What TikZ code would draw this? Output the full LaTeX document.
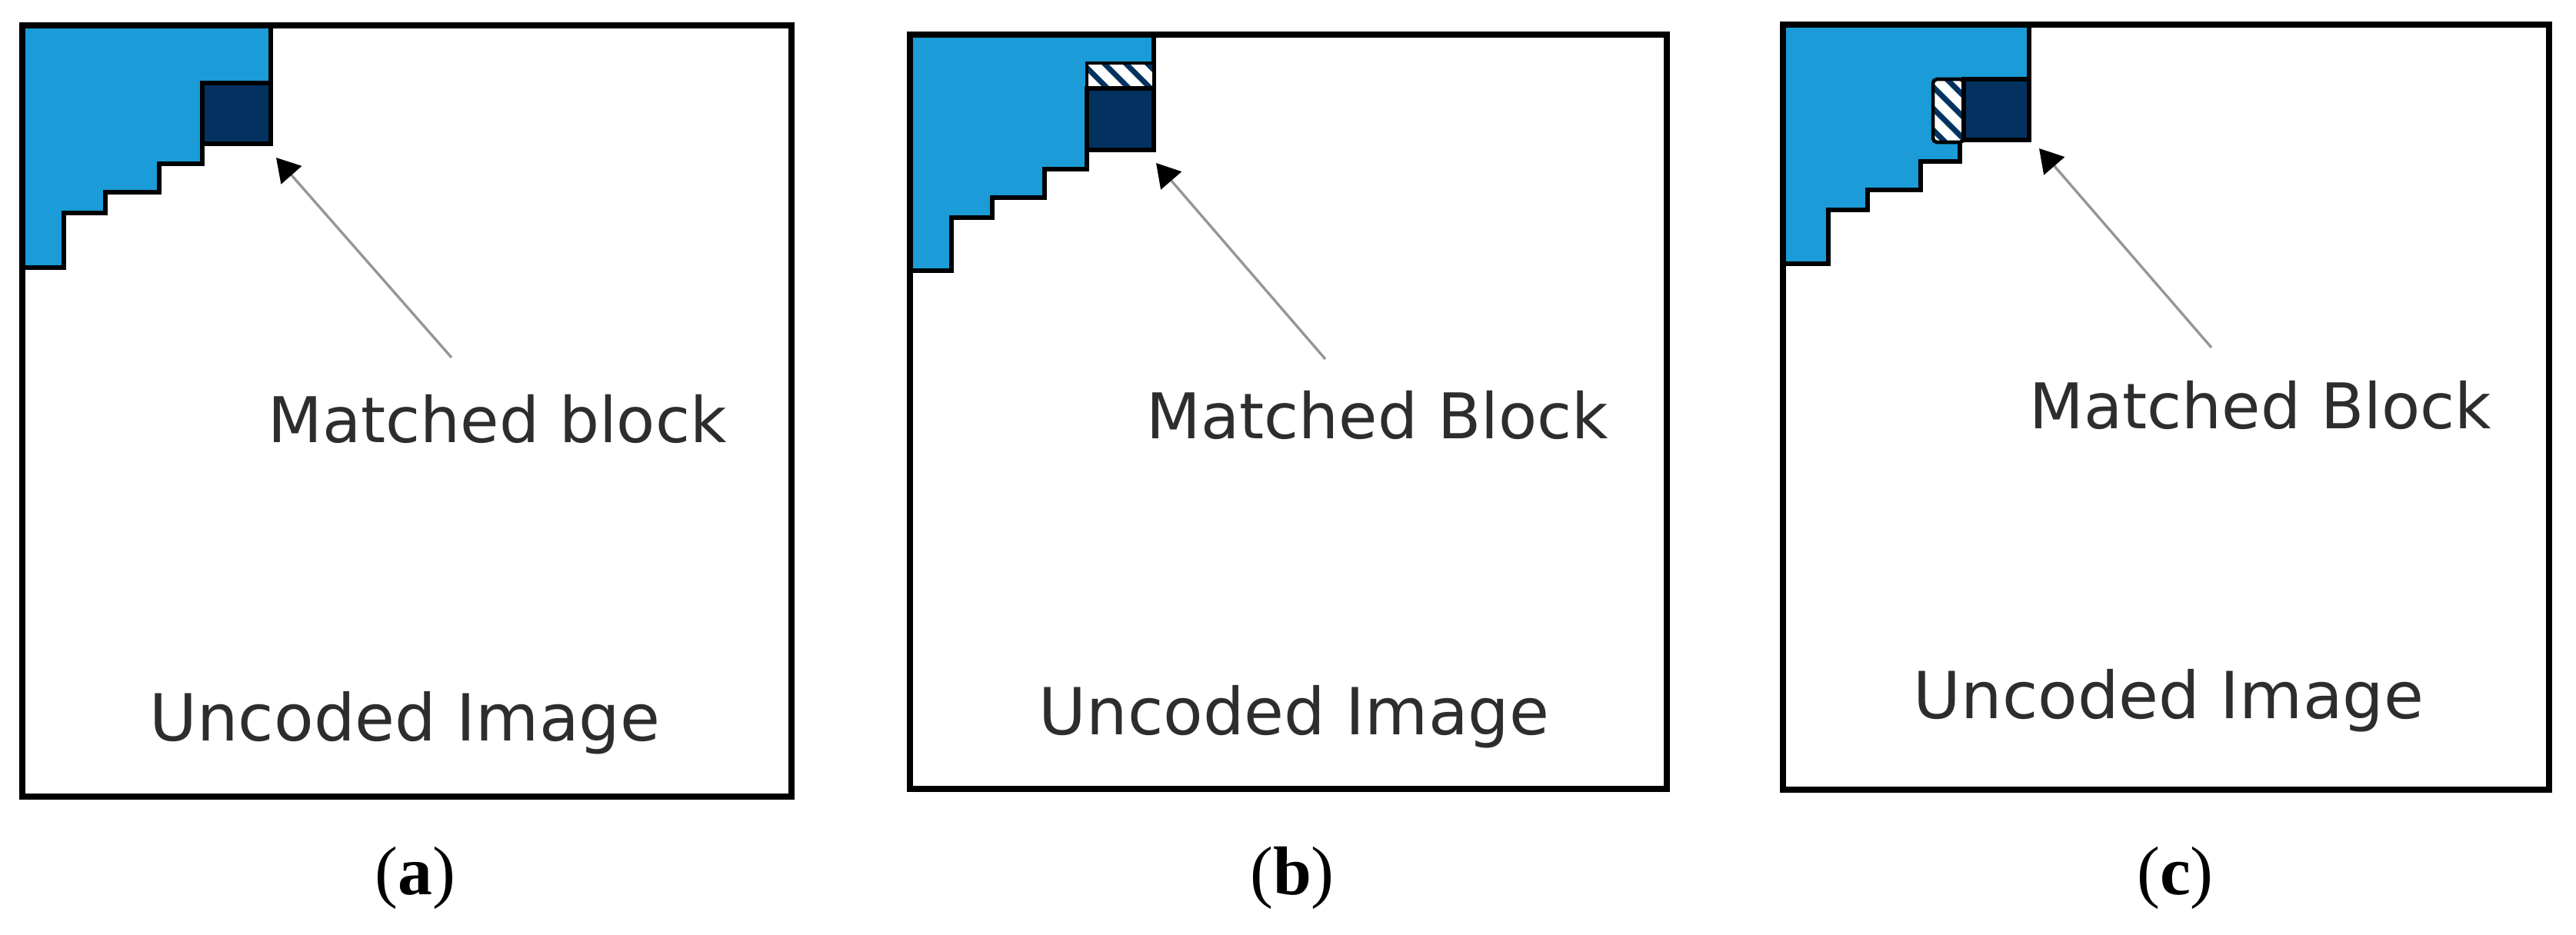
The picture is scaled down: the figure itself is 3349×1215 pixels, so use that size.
\documentclass[tikz,border=0pt]{standalone}
\usepackage{fontspec}
\newfontfamily\sansf{DejaVu Sans}
\newfontfamily\serf{Liberation Serif}
\usetikzlibrary{arrows.meta}
\definecolor{lblue}{RGB}{27,155,215}
\definecolor{navy}{RGB}{4,50,96}
\definecolor{arrgray}{RGB}{150,150,150}
\definecolor{txt}{RGB}{45,45,45}
\begin{document}
\begin{tikzpicture}[x=0.01cm,y=-0.01cm,
  frame/.style={draw=black,line width=2.2pt},
  region/.style={fill=lblue,draw=black,line width=1.5pt,line join=miter},
  mblock/.style={fill=navy,draw=black,line width=1.5pt},
  hatchbox/.style={draw=black,line width=1.3pt},
  stripe/.style={draw=navy,line width=2pt},
  txtlbl/.style={font=\sansf\fontsize{23.3pt}{28pt}\selectfont,text=txt,inner sep=0pt,anchor=base west},
  imglbl/.style={font=\sansf\fontsize{24pt}{28pt}\selectfont,text=txt,inner sep=0pt,anchor=base west},
  caplbl/.style={font=\serf\fontsize{25.5pt}{30pt}\selectfont,inner sep=0pt,anchor=base},
  pointer/.style={draw=arrgray,line width=0.95pt,-{Triangle[color=black,length=8.6pt,width=10pt]}}
]
\fill[white] (0,0) rectangle (3349,1215);
\useasboundingbox (0,0) rectangle (3349,1215);

% ---------- panel (a) ----------
\draw[region] (29,33) -- (352,33) -- (352,187) -- (263,187) -- (263,213) -- (207,213) -- (207,250)
  -- (137,250) -- (137,277) -- (83,277) -- (83,348) -- (29,348) -- cycle;
\draw[mblock] (263,108) rectangle (352,187);
\draw[frame] (29,33) rectangle (1029,1036);
\node[txtlbl] (mA) at (348,575) {Matched block};
\node[imglbl] (uA) at (194,963) {Uncoded Image};
\coordinate (tipA) at (359,205);
\coordinate (tailA) at (587,465);
\draw[pointer] (tailA) -- (tipA);
\node[caplbl] (capA) at (540,1163) {(\textbf{a})};

% ---------- panel (b) ----------
\draw[region] (1183,45) -- (1500,45) -- (1500,195) -- (1413,195) -- (1413,220) -- (1358,220) -- (1358,257)
  -- (1290,257) -- (1290,283) -- (1237,283) -- (1237,352) -- (1183,352) -- cycle;
\fill[white] (1413,82) rectangle (1500,115);
\begin{scope}
  \clip (1413,82) rectangle (1500,115);
  \foreach \s in {-56,-28,...,112} \draw[stripe] (1413+\s,60) -- ++(80,80);
\end{scope}
\draw[hatchbox] (1413,82) rectangle (1500,115);
\draw[mblock] (1413,115) rectangle (1500,195);
\draw[frame] (1183,45) rectangle (2167,1026);
\node[txtlbl] (mB) at (1490,570) {Matched Block};
\node[imglbl] (uB) at (1350,955) {Uncoded Image};
\coordinate (tipB) at (1503,212);
\coordinate (tailB) at (1723,467);
\draw[pointer] (tailB) -- (tipB);
\node[caplbl] (capB) at (1680,1163) {(\textbf{b})};

% ---------- panel (c) ----------
\draw[region] (2318,32) -- (2638,32) -- (2638,182) -- (2548,182) -- (2548,210) -- (2497,210) -- (2497,247)
  -- (2428,247) -- (2428,273) -- (2377,273) -- (2377,343) -- (2318,343) -- cycle;
\fill[white,rounded corners=1.5pt] (2513,103) rectangle (2553,185);
\begin{scope}
  \clip[rounded corners=1.5pt] (2513,103) rectangle (2553,185);
  \foreach \s in {-56,-28,...,112} \draw[stripe] (2490,90+\s) -- ++(80,80);
\end{scope}
\draw[hatchbox,rounded corners=1.5pt] (2513,103) rectangle (2553,185);
\draw[mblock] (2553,103) rectangle (2638,182);
\draw[frame] (2318,32) rectangle (3314,1027);
\node[txtlbl] (mC) at (2638,557) {Matched Block};
\node[imglbl] (uC) at (2487,934) {Uncoded Image};
\coordinate (tipC) at (2651,193);
\coordinate (tailC) at (2875,452);
\draw[pointer] (tailC) -- (tipC);
\node[caplbl] (capC) at (2828,1163) {(\textbf{c})};
\end{tikzpicture}
\end{document}
